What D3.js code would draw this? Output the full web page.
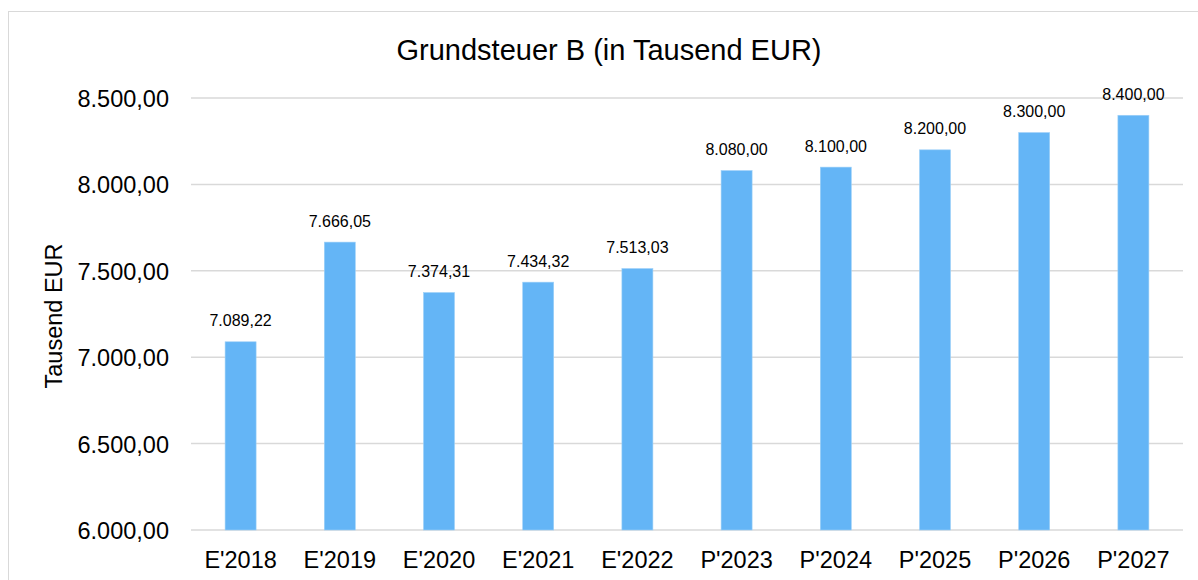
<!DOCTYPE html>
<html>
<head>
<meta charset="utf-8">
<script src="https://cdn.jsdelivr.net/npm/d3@7"></script>
<style>
  body { margin: 0; background: #fff; }
  text { font-family: "Liberation Sans", Arial, sans-serif; fill: #000; }
</style>
</head>
<body>
<div id="chart"></div>
<script>
const categories = ["E'2018", "E'2019", "E'2020", "E'2021", "E'2022", "P'2023", "P'2024", "P'2025", "P'2026", "P'2027"];
const values = [7089.22, 7666.05, 7374.31, 7434.32, 7513.03, 8080.00, 8100.00, 8200.00, 8300.00, 8400.00];
const yTicks = [6000, 6500, 7000, 7500, 8000, 8500];
const chartTitle = "Grundsteuer B (in Tausend EUR)";
const yTitle = "Tausend EUR";

const width = 1198, height = 580;
const margin = {top: 98, right: 15, bottom: 50, left: 191};

// german number format 1.234,56
const deLocale = d3.formatLocale({decimal: ",", thousands: ".", grouping: [3], currency: ["", " €"]});
const fmt = deLocale.format(",.2f");

const svg = d3.select("#chart").append("svg")
  .attr("width", width)
  .attr("height", height);

// outer frame
svg.append("rect")
  .attr("x", 8.5).attr("y", 11.5)
  .attr("width", 1300).attr("height", 700)
  .attr("fill", "none")
  .attr("stroke", "#d9d9d9")
  .attr("stroke-width", 1);

const x = d3.scaleBand()
  .domain(categories)
  .range([margin.left, width - margin.right])
  .padding(0);

const y = d3.scaleLinear()
  .domain([6000, 8500])
  .range([height - margin.bottom, margin.top]);

const barW = x.bandwidth() * 0.3125;

//gridlines
svg.append("g")
  .selectAll("line")
  .data(yTicks)
  .join("line")
  .attr("x1", margin.left)
  .attr("x2", width - margin.right)
  .attr("y1", d => y(d))
  .attr("y2", d => y(d))
  .attr("stroke", "#d9d9d9")
  .attr("stroke-width", 1.5);

// y axis labels
const yAxis = d3.axisLeft(y).tickValues(yTicks).tickFormat(fmt).tickSize(0).tickPadding(22);
svg.append("g")
  .attr("transform", `translate(${margin.left},0)`)
  .call(yAxis)
  .call(g => g.select(".domain").remove())
  .selectAll("text")
  .attr("font-size", 23.5)
  .attr("dy", "0.36em")
  .style("font-family", '"Liberation Sans", Arial, sans-serif')
  .attr("fill", "#000");

// x axis labels
const xAxis = d3.axisBottom(x).tickSize(0).tickPadding(21);
svg.append("g")
  .attr("transform", `translate(0,${height - margin.bottom})`)
  .call(xAxis)
  .call(g => g.select(".domain").remove())
  .selectAll("text")
  .attr("font-size", 23.5)
  .style("font-family", '"Liberation Sans", Arial, sans-serif')
  .attr("fill", "#000");

// bars
svg.append("g")
  .selectAll("rect")
  .data(values)
  .join("rect")
  .attr("x", (d, i) => x(categories[i]) + (x.bandwidth() - barW) / 2)
  .attr("y", d => y(d))
  .attr("width", barW)
  .attr("height", d => y(6000) - y(d))
  .attr("fill", "#64B5F6")
  .attr("stroke", "#9dd0f8")
  .attr("stroke-width", 0.6);

// value labels
svg.append("g")
  .selectAll("text")
  .data(values)
  .join("text")
  .attr("x", (d, i) => x(categories[i]) + x.bandwidth() / 2)
  .attr("y", d => y(d) - 15.5)
  .attr("text-anchor", "middle")
  .attr("font-size", 16)
  .text(d => fmt(d));

// title
svg.append("text")
  .attr("x", 609)
  .attr("y", 60)
  .attr("text-anchor", "middle")
  .attr("font-size", 29)
  .text(chartTitle);

// y title
svg.append("text")
  .attr("transform", `translate(62,316) rotate(-90)`)
  .attr("text-anchor", "middle")
  .attr("font-size", 23.5)
  .text(yTitle);
</script>
</body>
</html>
